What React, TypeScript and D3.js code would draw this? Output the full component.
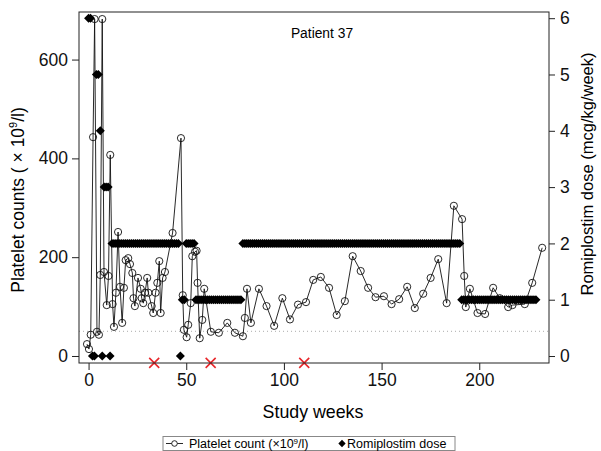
import { useRef, useEffect } from 'react';
import * as d3 from 'd3';

// platelet count (x10^9/l) by study week
const weeks = [
  -0.8, 0.2, 1.1, 2.3, 3.1, 4.3, 5.3, 6.0, 7.0, 7.9, 9.3, 10.2, 11.1, 12.3, 13.0, 14.0, 15.1, 16.1,
  17.2, 18.1, 19.0, 20.3, 21.2, 22.4, 23.0, 23.7, 25.3, 26.7, 27.2, 28.0, 28.9, 30.0, 30.6, 32.3,
  33.1, 34.3, 35.2, 36.2, 36.9, 37.9, 39.1, 43.0, 47.3, 48.2, 48.8, 50.2, 51.0, 52.3, 53.1, 54.5,
  55.3, 55.8, 56.9, 58.2, 59.2, 62.6, 66.7, 71.0, 74.9, 79.0, 80.0, 81.1, 83.1, 87.2, 91.1, 95.0,
  99.2, 103.1, 107.2, 111.3, 115.0, 118.9, 123.1, 127.0, 131.2, 135.2, 139.3, 143.1, 146.9, 151.2,
  155.1, 159.0, 163.1, 167.0, 171.3, 175.1, 179.0, 183.3, 187.0, 191.2, 192.3, 193.1, 195.2, 199.1,
  203.0, 207.1, 210.5, 214.8, 217.0, 223.3, 227.1, 232.2,
];
const platelets = [
  24, 14, 43, 443, 682, 49, 43, 164, 682, 170, 103, 162, 407, 105, 59, 128, 251, 140,
  67, 138, 194, 198, 186, 168, 117, 101, 158, 136, 117, 107, 128, 158, 128, 101,
  87, 128, 148, 192, 87, 158, 170, 249, 441, 123, 53, 38, 63, 107, 202, 211,
  213, 148, 36, 73, 136, 49, 47, 67, 47, 40, 77, 136, 67, 136, 101, 61,
  117, 74, 104, 109, 154, 160, 138, 83, 111, 202, 172, 138, 119, 121,
  105, 115, 140, 97, 126, 158, 196, 107, 304, 277, 162, 99, 136, 87,
  85, 138, 117, 99, 103, 105, 148, 219,
];

// romiplostim dose (mcg/kg/week), weekly, given as runs
const doseStart = [0, 2, 4, 6, 7, 8, 11, 12, 47, 48, 50, 55, 79, 191];
const doseEnd = [1, 3, 5, 6, 7, 10, 11, 46, 47, 49, 54, 78, 190, 229];
const doseLevel = [6, 0, 5, 4, 0, 3, 0, 2, 0, 1, 2, 1, 2, 1];

// missed / no-count markers
const crossWeeks = [33.6, 62.5, 110.4];
const crossLevel = -14;

const xTicks = [0, 50, 100, 150, 200];
const leftTicks = [0, 200, 400, 600];
const rightTicks = [0, 1, 2, 3, 4, 5, 6];

const FONT = '"Liberation Sans", Arial, sans-serif';

export default function App() {
  const svgRef = useRef(null);

  useEffect(() => {
    const svg = d3.select(svgRef.current);
    svg.selectAll('*').remove();

    const L = 79, R = 549, T = 12, B = 363;
    const x = d3.scaleLinear().domain([-4.9, 235.7]).range([L, R]);
    const yL = d3.scaleLinear().domain([-14.2, 696.3]).range([B, T]);
    const yR = d3.scaleLinear().domain([-0.124, 6.11]).range([B, T]);

    const dose = [];
    doseStart.forEach((s, i) => {
      for (let w = s; w <= doseEnd[i]; w++) dose.push({ w, d: doseLevel[i] });
    });
    const pts = weeks.map((w, i) => ({ w, p: platelets[i] }));

    // axes
    const styled = g => {
      g.select('.domain').remove();
      g.selectAll('.tick line').attr('stroke', '#222');
      g.selectAll('text').attr('fill', '#111').attr('font-size', 17.5).attr('font-family', FONT);
    };
    svg.append('g').attr('transform', `translate(0,${B})`)
      .call(d3.axisBottom(x).tickValues(xTicks).tickSize(7).tickPadding(4).tickFormat(d3.format('d'))).call(styled);
    svg.append('g').attr('transform', `translate(${L},0)`)
      .call(d3.axisLeft(yL).tickValues(leftTicks).tickSize(7).tickPadding(4).tickFormat(d3.format('d'))).call(styled);
    svg.append('g').attr('transform', `translate(${R},0)`)
      .call(d3.axisRight(yR).tickValues(rightTicks).tickSize(6).tickPadding(5).tickFormat(d3.format('d'))).call(styled);

    // reference line at 50
    svg.append('line').attr('x1', L).attr('x2', R).attr('y1', yL(50)).attr('y2', yL(50))
      .attr('stroke', '#aaa').attr('stroke-width', 1).attr('stroke-dasharray', '1,3');

    // platelet line + circles
    const line = d3.line().x(d => x(d.w)).y(d => yL(d.p));
    svg.append('path').datum(pts).attr('d', line)
      .attr('fill', 'none').attr('stroke', '#111').attr('stroke-width', 0.9);
    svg.append('g').selectAll('circle').data(pts).join('circle')
      .attr('cx', d => x(d.w)).attr('cy', d => yL(d.p)).attr('r', 3.6)
      .attr('fill', 'none').attr('stroke', '#111').attr('stroke-width', 0.9);

    // dose diamonds
    const diamond = d3.symbol().type(d3.symbolDiamond2).size(52);
    svg.append('g').selectAll('path').data(dose).join('path')
      .attr('transform', d => `translate(${x(d.w)},${yR(d.d)})`)
      .attr('d', diamond).attr('fill', '#000');

    // red crosses
    svg.append('g').selectAll('path').data(crossWeeks).join('path')
      .attr('d', w => {
        const cx = x(w), cy = yL(crossLevel), s = 5;
        return `M${cx - s},${cy - s}L${cx + s},${cy + s}M${cx - s},${cy + s}L${cx + s},${cy - s}`;
      })
      .attr('stroke', '#e8262a').attr('stroke-width', 1.6).attr('fill', 'none');

    // frame
    svg.append('rect').attr('x', L).attr('y', T).attr('width', R - L).attr('height', B - T)
      .attr('fill', 'none').attr('stroke', '#222').attr('stroke-width', 1);

    // titles
    svg.append('text').attr('x', 322).attr('y', 38).attr('text-anchor', 'middle')
      .attr('font-size', 13.8).attr('font-family', FONT).text('Patient 37');
    svg.append('text').attr('x', 313).attr('y', 418).attr('text-anchor', 'middle')
      .attr('font-size', 17.8).attr('font-family', FONT).text('Study weeks');

    const lt = svg.append('text').attr('text-anchor', 'middle')
      .attr('transform', 'translate(24,200) rotate(-90)')
      .attr('font-size', 17.5).attr('font-family', FONT);
    lt.append('tspan').text('Platelet counts ( × 10');
    lt.append('tspan').attr('font-size', 11).attr('dy', -7).text('9');
    lt.append('tspan').attr('dy', 7).text('/l)');

    svg.append('text').attr('text-anchor', 'middle')
      .attr('transform', 'translate(593,174) rotate(-90)')
      .attr('font-size', 16.5).attr('font-family', FONT).text('Romiplostim dose (mcg/kg/week)');

    // legend
    const lg = svg.append('g');
    lg.append('rect').attr('x', 163).attr('y', 436.5).attr('width', 292).attr('height', 14)
      .attr('fill', '#fff').attr('stroke', '#888').attr('stroke-width', 1);
    lg.append('line').attr('x1', 166).attr('x2', 183).attr('y1', 443.5).attr('y2', 443.5)
      .attr('stroke', '#111').attr('stroke-width', 0.9);
    lg.append('circle').attr('cx', 174.5).attr('cy', 443.5).attr('r', 2.8)
      .attr('fill', '#fff').attr('stroke', '#111').attr('stroke-width', 0.9);
    const t1 = lg.append('text').attr('x', 189).attr('y', 448).attr('font-size', 12.5).attr('font-family', FONT);
    t1.append('tspan').text('Platelet count (×10');
    t1.append('tspan').attr('font-size', 8).attr('dy', -4).text('9');
    t1.append('tspan').attr('dy', 4).text('/l)');
    lg.append('path').attr('transform', 'translate(342,443.5)').attr('d', d3.symbol().type(d3.symbolDiamond2).size(34)).attr('fill', '#000');
    lg.append('text').attr('x', 347).attr('y', 448).attr('font-size', 12.5).attr('font-family', FONT)
      .text('Romiplostim dose');
  }, []);

  return (
    <svg ref={svgRef} width={601} height={451}
      style={{ position: 'absolute', left: 0, top: 0, background: '#fff' }} />
  );
}
